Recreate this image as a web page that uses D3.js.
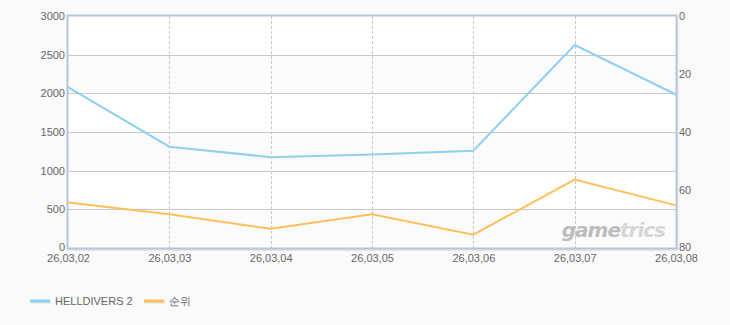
<!DOCTYPE html>
<html><head><meta charset="utf-8">
<script src="https://cdn.jsdelivr.net/npm/d3@7"></script>
<style>
html,body{margin:0;padding:0;background:#fafafa;}
svg{display:block;}
text{font-family:"Liberation Sans",Arial,sans-serif;font-size:11px;fill:#666;}
</style></head><body>
<svg id="c" width="730" height="325"></svg>
<script>
const categories = ["26,03,02","26,03,03","26,03,04","26,03,05","26,03,06","26,03,07","26,03,08"];
const players = [2080, 1310, 1175, 1210, 1258, 2625, 1985];
const rank = [64.3, 68.4, 73.4, 68.4, 75.4, 56.4, 65.3];
const leftTicks = [0,500,1000,1500,2000,2500,3000];
const rightTicks = [0,20,40,60,80];
const seriesNames = ["HELLDIVERS 2","순위"];
const colors = ["#8fd0f0","#ffbf5a"];

const svg = d3.select("#c");
const L=68, R=676, T=16, B=248;
const x = d3.scalePoint().domain(categories).range([L,R]);
const yL = d3.scaleLinear().domain([0,3000]).range([B,T]);
const yR = d3.scaleLinear().domain([0,80]).range([T,B]);

// plot background bands
const bands = d3.pairs(leftTicks);
svg.append("g").selectAll("rect").data(bands).join("rect")
  .attr("x",L).attr("width",R-L)
  .attr("y",d=>yL(d[1])).attr("height",d=>yL(d[0])-yL(d[1]))
  .attr("fill",(d,i)=>i%2===0?"#fbfbfb":"#ffffff");

// shadow under bottom/right
svg.append("line").attr("x1",L).attr("x2",R+2).attr("y1",B+2).attr("y2",B+2).attr("stroke","#e6e6e6").attr("stroke-width",2);
svg.append("line").attr("x1",R+2).attr("x2",R+2).attr("y1",T+2).attr("y2",B+2).attr("stroke","#e9e9e9").attr("stroke-width",1.5);

// horizontal grid
svg.append("g").selectAll("line").data(leftTicks.slice(1,-1)).join("line")
  .attr("x1",L).attr("x2",R).attr("y1",d=>Math.round(yL(d))+0.5).attr("y2",d=>Math.round(yL(d))+0.5)
  .attr("stroke","#c8c8c8");
// vertical dashed grid
svg.append("g").selectAll("line").data(categories.slice(1,-1)).join("line")
  .attr("x1",d=>Math.round(x(d))+0.5).attr("x2",d=>Math.round(x(d))+0.5).attr("y1",T).attr("y2",B)
  .attr("stroke","#c8c8c8").attr("stroke-dasharray","3,2");

// border
svg.append("rect").attr("x",L-0.5).attr("y",T-0.5).attr("width",R-L+1).attr("height",B-T+1)
  .attr("fill","none").attr("stroke","#b4c6da").attr("stroke-width",2);

// watermark
const wm = svg.append("text").attr("x",665).attr("y",237).attr("text-anchor","end")
  .style("font-family","'DejaVu Sans',sans-serif").style("font-size","20px").style("font-weight","bold")
  .style("font-style","italic").style("letter-spacing","-1px");
wm.append("tspan").style("fill","#bdbdbd").text("game");
wm.append("tspan").style("fill","#d6d6d6").text("trics");

// lines
const lineL = d3.line().x((d,i)=>x(categories[i])).y(d=>yL(d));
const lineR = d3.line().x((d,i)=>x(categories[i])).y(d=>yR(d));
svg.append("path").attr("d",lineR(rank)).attr("fill","none").attr("stroke",colors[1]).attr("stroke-width",2);
svg.append("path").attr("d",lineL(players)).attr("fill","none").attr("stroke",colors[0]).attr("stroke-width",2);

// axes
const axL = svg.append("g").attr("transform",`translate(${L-1},0)`).call(d3.axisLeft(yL).tickValues(leftTicks).tickFormat(d3.format("d")).tickSize(0).tickPadding(2));
axL.select(".domain").remove();
axL.selectAll(".tick").filter(d=>d===0).select("text").attr("dy","0.2em");
const axR = svg.append("g").attr("transform",`translate(${R+1},0)`).call(d3.axisRight(yR).tickValues(rightTicks).tickFormat(d3.format("d")).tickSize(0).tickPadding(2));
axR.select(".domain").remove();
axR.selectAll(".tick").filter(d=>d===80).select("text").attr("dy","0.2em");
const axB = svg.append("g").attr("transform",`translate(0,${B})`).call(d3.axisBottom(x).tickSize(0).tickPadding(6));
axB.select(".domain").remove();
svg.selectAll(".tick text").style("fill","#666").style("font-family","'Liberation Sans',Arial,sans-serif").style("font-size","11px");

// legend
const leg = svg.append("g");
const legX = [30,144];
seriesNames.forEach((n,i)=>{
  leg.append("line").attr("x1",legX[i]+1).attr("x2",legX[i]+21).attr("y1",302).attr("y2",302).attr("stroke","#e0e0e0").attr("stroke-width",3);
  leg.append("line").attr("x1",legX[i]).attr("x2",legX[i]+20).attr("y1",301).attr("y2",301).attr("stroke",colors[i]).attr("stroke-width",3);
  leg.append("text").attr("x",legX[i]+25).attr("y",305).text(n);
});
</script>
</body></html>
